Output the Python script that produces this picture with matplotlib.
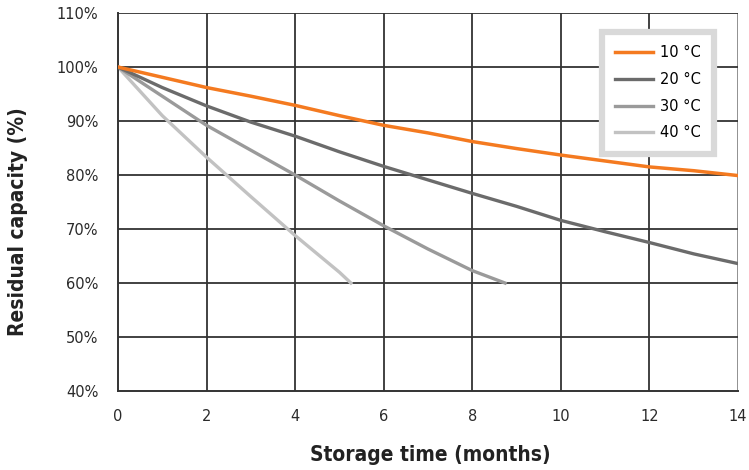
import matplotlib.pyplot as plt

months_10 = [0, 1, 2, 3, 4, 5, 6, 7, 8, 9, 10, 11, 12, 13, 14]
cap_10 = [100, 98.1, 96.2, 94.6, 92.9, 91.0, 89.2, 87.8, 86.2, 84.9, 83.7, 82.6, 81.5, 80.8, 79.9]

months_20 = [0, 1, 2, 3, 4, 5, 6, 7, 8, 9, 10, 11, 12, 13, 14]
cap_20 = [100, 96.2, 92.8, 89.8, 87.2, 84.3, 81.6, 79.1, 76.6, 74.2, 71.6, 69.5, 67.5, 65.4, 63.6]

months_30 = [0, 1, 2, 3, 4, 5, 6, 7, 8, 8.74]
cap_30 = [100, 94.6, 89.2, 84.6, 80.0, 75.2, 70.6, 66.3, 62.3, 60]

months_40 = [0, 1, 2, 3, 4, 5, 5.26]
cap_40 = [100, 91.0, 83.3, 76.0, 68.8, 62.0, 60]

x_ticks = [0, 2, 4, 6, 8, 10, 12, 14]
y_ticks = [40, 50, 60, 70, 80, 90, 100, 110]

fig = plt.figure(figsize=(7.49, 4.70), dpi=100)
ax = fig.add_axes([0.1575, 0.168, 0.8278, 0.8043])

grid_col = '#333333'
for xv in x_ticks[1:-1]:
    ax.axvline(xv, color=grid_col, lw=1.3, zorder=1)
ax.axvline(14, color='#888888', lw=1.3, zorder=1)
for yv in y_ticks[1:]:
    ax.axhline(yv, color=grid_col, lw=1.3, zorder=1)

ax.plot(months_10, cap_10, color='#f47a20', lw=2.5, label='10 °C', zorder=5)
ax.plot(months_20, cap_20, color='#6b6b6b', lw=2.4, label='20 °C', zorder=4)
ax.plot(months_30, cap_30, color='#9a9a9a', lw=2.4, label='30 °C', zorder=3)
ax.plot(months_40, cap_40, color='#c2c2c2', lw=2.4, label='40 °C', zorder=2)

ax.set_xlim(0, 14)
ax.set_ylim(40, 110)
ax.set_xticks(x_ticks)
ax.set_yticks(y_ticks)
ax.set_yticklabels([f'{v}%' for v in y_ticks])
ax.tick_params(length=0, labelsize=10.5, colors='#2a2a2a')
ax.tick_params(axis='x', pad=13)
ax.tick_params(axis='y', pad=14)

# small cross at the origin
ax.set_xticks([0], minor=True)
ax.set_yticks([40], minor=True)
ax.tick_params(which='minor', direction='out', length=7, width=1.3, color=grid_col)

for s in ['top', 'right']:
    ax.spines[s].set_visible(False)
for s in ['left', 'bottom']:
    ax.spines[s].set_color(grid_col)
    ax.spines[s].set_linewidth(1.4)

lab_font = dict(family=['DejaVu Sans'], stretch='condensed', weight='bold', size=15, color='#222222')
ax.set_xlabel('Storage time (months)', **lab_font)
ax.set_ylabel('Residual capacity (%)', **lab_font)
ax.xaxis.set_label_coords(0.503, -0.143)
ax.yaxis.set_label_coords(-0.145, 0.447)

leg = ax.legend(loc='upper right', bbox_to_anchor=(0.962, 0.949), borderaxespad=0,
                fontsize=10.5, handlelength=2.6, labelspacing=0.8, fancybox=False,
                framealpha=1, borderpad=0.9, handletextpad=0.5)
leg.get_frame().set_edgecolor('#d9d9d9')
leg.get_frame().set_linewidth(4.5)
leg.set_zorder(10)

fig.savefig('out.png', dpi=100)
